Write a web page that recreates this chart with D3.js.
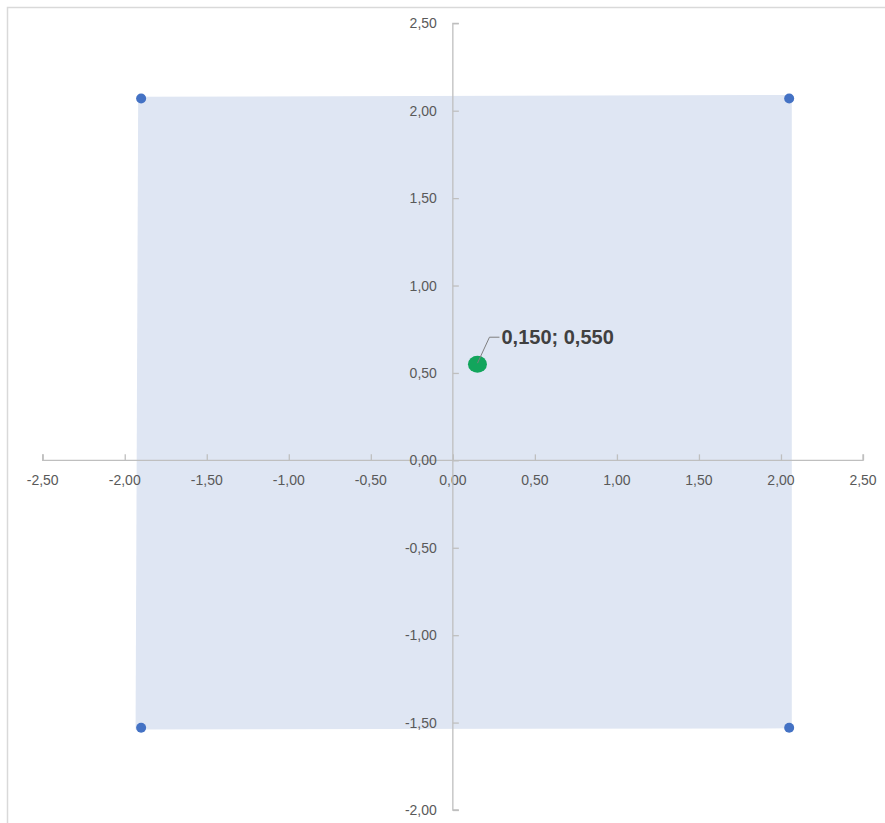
<!DOCTYPE html>
<html>
<head>
<meta charset="utf-8">
<script src="https://d3js.org/d3.v7.min.js"></script>
<style>
    html, body { margin: 0; padding: 0; background: #fff; }
    svg { display: block; }
    .tick-label { font: 14px "Liberation Sans", Arial, sans-serif; fill: #595959; }
    .point-label { font: bold 20px "Liberation Sans", Arial, sans-serif; fill: #404040; }
</style>
</head>
<body>
<div id="chart"></div>
<script>
    // axis ticks
    var xTicks = [-2.5, -2, -1.5, -1, -0.5, 0, 0.5, 1, 1.5, 2, 2.5];
    var yTicks = [-2, -1.5, -1, -0.5, 0, 0.5, 1, 1.5, 2, 2.5];

    // corner points (blue series)
    var cornerX = [-1.90, 2.05, -1.90, 2.05];
    var cornerY = [2.07, 2.07, -1.53, -1.53];

    // shaded area behind the corners
    var areaX = [-1.918, 2.066, 2.066, -1.934];
    var areaY = [2.080, 2.090, -1.533, -1.539];

    // highlighted point
    var pointX = [0.15];
    var pointY = [0.55];

    var width = 885, height = 823;

    // comma decimals, plain hyphen for negatives
    var fmt = function (v) { return d3.format(".2f")(v).replace(".", ",").replace("\u2212", "-"); };
    var fmt3 = function (v) { return d3.format(".3f")(v).replace(".", ",").replace("\u2212", "-"); };

    var x = d3.scaleLinear().domain([-2.5, 2.5]).range([42.7, 863]);
    var y = d3.scaleLinear().domain([-2, 2.5]).range([810, 23.3]);

    var svg = d3.select("#chart").append("svg")
        .attr("width", width)
        .attr("height", height);

    // outer frame
    svg.append("rect")
        .attr("x", 7.5).attr("y", 7.5)
        .attr("width", 900).attr("height", 900)
        .style("fill", "none")
        .style("stroke", "#d9d9d9")
        .style("stroke-width", 1.5);

    // shaded area
    svg.append("polygon")
        .attr("points", areaX.map(function (d, i) { return x(d) + "," + y(areaY[i]); }).join(" "))
        .style("fill", "#dfe6f3");

    // x axis through y = 0
    var xAxis = d3.axisTop(x).tickValues(xTicks).tickSize(6).tickFormat("");
    var gx = svg.append("g")
        .attr("transform", "translate(0," + y(0) + ")")
        .call(xAxis);
    gx.selectAll("path, line").style("stroke", "#bfbfbf").style("stroke-width", 1.3);
    gx.select(".domain").attr("d", "M" + x(-2.5) + ",-6V0H" + x(2.5) + "V-6");

    svg.append("g").selectAll("text").data(xTicks).enter()
        .append("text")
        .attr("class", "tick-label")
        .attr("x", function (d) { return x(d); })
        .attr("y", y(0) + 25)
        .attr("text-anchor", "middle")
        .text(fmt);

    // y axis through x = 0
    var yAxis = d3.axisRight(y).tickValues(yTicks).tickSize(6).tickFormat("");
    var gy = svg.append("g")
        .attr("transform", "translate(" + x(0) + ",0)")
        .call(yAxis);
    gy.selectAll("path, line").style("stroke", "#bfbfbf").style("stroke-width", 1.3);
    gy.select(".domain").attr("d", "M6," + y(2.5) + "H0V" + y(-2) + "H6");

    svg.append("g").selectAll("text").data(yTicks).enter()
        .append("text")
        .attr("class", "tick-label")
        .attr("x", x(0) - 16)
        .attr("y", function (d) { return y(d) + 5; })
        .attr("text-anchor", "end")
        .text(fmt);

    // corner points
    svg.append("g").selectAll("circle").data(cornerX).enter()
        .append("circle")
        .attr("cx", function (d) { return x(d); })
        .attr("cy", function (d, i) { return y(cornerY[i]); })
        .attr("r", 5)
        .style("fill", "#4472c4");

    // highlighted point with leader line and label
    var px = x(pointX[0]), py = y(pointY[0]);
    svg.append("ellipse")
        .attr("cx", px).attr("cy", py)
        .attr("rx", 9.5).attr("ry", 8.5)
        .style("fill", "#12a55c");

    svg.append("path")
        .attr("d", "M" + px + "," + (py - 1) + "L" + (px + 12) + "," + (py - 27) + "H" + (px + 22))
        .style("fill", "none")
        .style("stroke", "#7f7f7f")
        .style("stroke-width", 1);

    svg.append("text")
        .attr("class", "point-label")
        .attr("x", px + 24)
        .attr("y", py - 20)
        .text(fmt3(pointX[0]) + "; " + fmt3(pointY[0]));
</script>
</body>
</html>
